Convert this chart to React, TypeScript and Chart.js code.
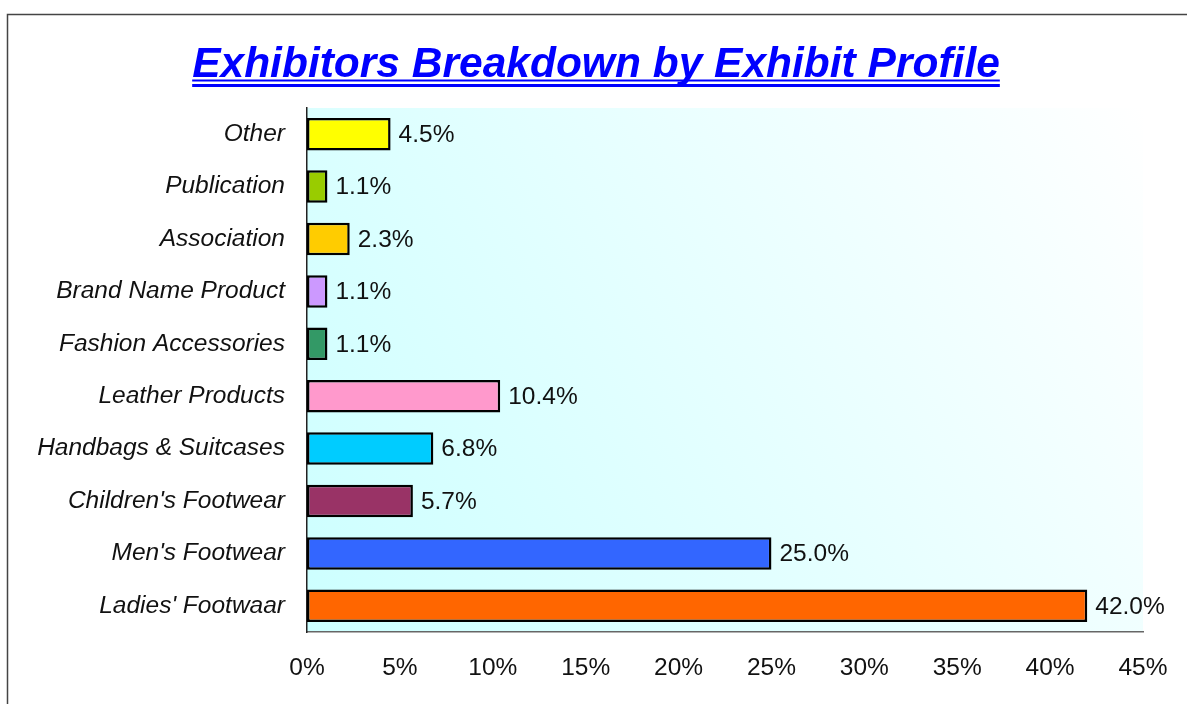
import React, { useEffect, useRef } from "react";
import { Chart, registerables } from "chart.js";

Chart.register(...registerables);

const TITLE = "Exhibitors Breakdown by Exhibit Profile";
const categories = [
  "Other",
  "Publication",
  "Association",
  "Brand Name Product",
  "Fashion Accessories",
  "Leather Products",
  "Handbags & Suitcases",
  "Children's Footwear",
  "Men's Footwear",
  "Ladies' Footwaar",
];
const values = [4.5, 1.1, 2.3, 1.1, 1.1, 10.4, 6.8, 5.7, 25.0, 42.0];
const barColors = [
  "#ffff00",
  "#99cc00",
  "#ffcc00",
  "#cc99ff",
  "#339966",
  "#ff99cc",
  "#00ccff",
  "#993366",
  "#3366ff",
  "#ff6600",
];
const xMin = 0;
const xMax = 45;
const xStep = 5;

const FONT = '"Liberation Sans", Arial, Helvetica, sans-serif';

const framePlugin = {
  id: "frameAndTitle",
  beforeDraw(chart: any) {
    const { ctx, chartArea } = chart;
    ctx.save();
    ctx.fillStyle = "#ffffff";
    ctx.fillRect(0, 0, chart.width, chart.height);
    const g = ctx.createLinearGradient(chartArea.right, chartArea.top, chartArea.left, chartArea.bottom);
    g.addColorStop(0, "#ffffff");
    g.addColorStop(1, "#ccffff");
    ctx.fillStyle = g;
    ctx.fillRect(chartArea.left, chartArea.top, chartArea.right - chartArea.left, chartArea.bottom - chartArea.top);
    ctx.restore();
  },
  afterDraw(chart: any) {
    const { ctx } = chart;
    ctx.save();
    ctx.strokeStyle = "#444444";
    ctx.lineWidth = 1.5;
    ctx.strokeRect(7.5, 14.5, 1300, 900);
    ctx.font = `italic bold 42.5px ${FONT}`;
    ctx.fillStyle = "#0000ff";
    ctx.textAlign = "center";
    ctx.textBaseline = "alphabetic";
    const cx = 596;
    ctx.fillText(TITLE, cx, 77);
    const w = ctx.measureText(TITLE).width;
    ctx.fillRect(cx - w / 2, 79.5, w, 2);
    ctx.fillRect(cx - w / 2, 84, w, 3);
    ctx.restore();
  },
};

const labelPlugin = {
  id: "valueLabels",
  afterDatasetsDraw(chart: any) {
    const { ctx } = chart;
    const meta = chart.getDatasetMeta(0);
    ctx.save();
    ctx.font = `24.5px ${FONT}`;
    ctx.fillStyle = "#111111";
    ctx.textAlign = "left";
    ctx.textBaseline = "middle";
    meta.data.forEach((bar: any, i: number) => {
      ctx.fillText(values[i].toFixed(1) + "%", bar.x + 8, bar.y + 1);
    });
    ctx.restore();
  },
};

export default function App() {
  const ref = useRef<HTMLCanvasElement>(null);
  useEffect(() => {
    if (!ref.current) return;
    const chart = new Chart(ref.current, {
      type: "bar",
      data: {
        labels: categories,
        datasets: [
          {
            data: values,
            backgroundColor: barColors,
            borderColor: "#000000",
            borderWidth: 2.5,
            borderSkipped: false,
            barPercentage: 0.62,
            categoryPercentage: 1,
          },
        ],
      },
      options: {
        indexAxis: "y",
        animation: false,
        responsive: false,
        maintainAspectRatio: false,
        layout: { padding: { top: 108, right: 44, left: 0, bottom: 0 } },
        plugins: {
          legend: { display: false },
          title: { display: false },
          tooltip: { enabled: false },
        },
        scales: {
          x: {
            min: xMin,
            max: xMax,
            grid: { display: false, drawTicks: false },
            border: { display: true, color: "#666666", width: 1.5 },
            ticks: {
              stepSize: xStep,
              padding: 22,
              color: "#111111",
              font: { family: FONT, size: 24.5 },
              callback: (v: any) => v + "%",
            },
            afterFit: (s: any) => {
              s.height = 72;
              s.paddingLeft = 0;
              s.paddingRight = 0;
            },
          },
          y: {
            grid: { display: false, drawTicks: false },
            border: { display: true, color: "#222222", width: 1.5 },
            ticks: {
              padding: 22,
              color: "#111111",
              font: { family: FONT, size: 24.5, style: "italic" },
            },
            afterFit: (s: any) => {
              s.width = 307;
              s.paddingTop = 0;
              s.paddingBottom = 0;
            },
          },
        },
      },
      plugins: [framePlugin, labelPlugin],
    });
    return () => chart.destroy();
  }, []);
  return (
    <div style={{ position: "fixed", left: 0, top: 0, width: 1187, height: 704 }}>
      <canvas ref={ref} width={1187} height={704} style={{ width: 1187, height: 704, display: "block" }} />
    </div>
  );
}
